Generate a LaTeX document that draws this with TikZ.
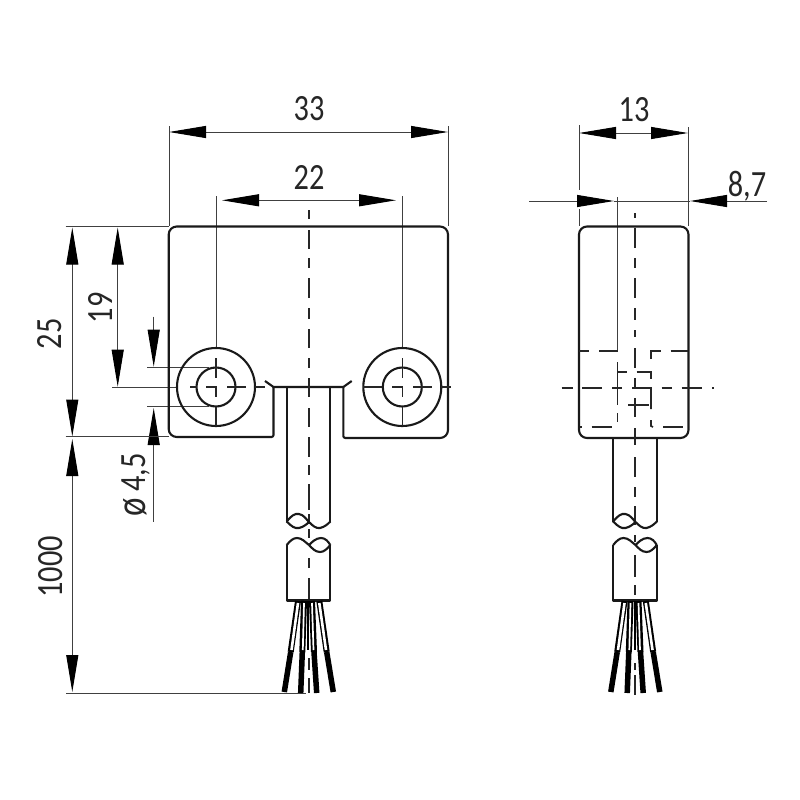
\documentclass[tikz,border=0pt]{standalone}
\usepackage{fontspec}
\usepackage{graphicx}
\usetikzlibrary{arrows.meta}
\newfontfamily\dimfont{Carlito}
\newcommand{\dimtext}[1]{{\dimfont\fontsize{37}{37}\selectfont\scalebox{.82}[1]{#1}}}
\tikzset{
  headtip/.tip={Triangle[length=37pt,width=12pt,color=black,fill=black]},
  outline/.style={line width=2.1pt,draw=black!90,line join=round},
  thinline/.style={line width=1pt,draw=black!75},
  dimline/.style={thinline,{headtip}-{headtip}},
  dimend/.style={thinline,-{headtip}},
  hidden/.style={line width=1.7pt,draw=black!85},
  centre/.style={line width=1.6pt,draw=black!85},
  dimlabel/.style={inner sep=0pt,text=black!85},
  wirebody/.style={line width=6pt,draw=black},
  wirecore/.style={line width=2.6pt,draw=white},
  wirecorein/.style={line width=1.7pt,draw=white}
}
\begin{document}
\begin{tikzpicture}[x=1pt,y=-1pt]
\path[use as bounding box,fill=white] (0,0) rectangle (800,800);
% ---- named dimension points
\coordinate (dAa) at (169,132); \coordinate (dAb) at (448,132);
\coordinate (dBa) at (222,200.3); \coordinate (dBb) at (396,200.3);
\coordinate (dCa) at (72.3,227.5); \coordinate (dCb) at (72.3,436.5);
\coordinate (dDa) at (117.7,227.5); \coordinate (dDb) at (117.7,386.7);
\coordinate (dEa) at (72.3,439); \coordinate (dEb) at (72.3,692);
\coordinate (dFa) at (153.7,316.7); \coordinate (dFb) at (153.7,366.7);
\coordinate (dGa) at (153.7,521.7); \coordinate (dGb) at (153.7,408);
\coordinate (dHa) at (579,133); \coordinate (dHb) at (688,133);
\coordinate (dIa) at (529,201); \coordinate (dIb) at (614,201);
\coordinate (dJa) at (767,201); \coordinate (dJb) at (690,201);
% ---- dimension lines
\draw[dimline] (dAa) -- (dAb);
\draw[dimline] (dBa) -- (dBb);
\draw[dimline] (dCa) -- (dCb);
\draw[dimline] (dDa) -- (dDb);
\draw[dimline] (dEa) -- (dEb);
\draw[dimend] (dFa) -- (dFb);
\draw[dimend] (dGa) -- (dGb);
\draw[dimline] (dHa) -- (dHb);
\draw[dimend] (dIa) -- (dIb);
\draw[dimend] (dJa) -- (dJb);
\draw[thinline] (dIb) -- (dJb);
% ---- extension lines
\draw[thinline] (169,126) -- (169,226) (448,126) -- (448,226);
\draw[thinline] (216,196) -- (216,348) (402.3,196) -- (402.3,348);
\draw[thinline] (65.7,226.7) -- (169,226.7);
\draw[thinline] (65.7,436.7) -- (169,436.7);
\draw[thinline] (112,387) -- (178,387);
\draw[thinline] (147,367.7) -- (209,367.7) (147,406) -- (209,406);
\draw[thinline] (66,693) -- (306,693);
\draw[thinline] (579,125) -- (579,190) (579,209) -- (579,226) (688,127) -- (688,226);
\draw[thinline] (617.5,197) -- (617.5,350);
% ---- front view body
\draw[outline,rounded corners=8pt] (273.5,387) [rounded corners=2pt] -- (273.5,437) -- (200,437) [rounded corners=8pt] -- (168.7,437) -- (168.7,226.5) -- (448,226.5) -- (448,438) -- (380,438) [rounded corners=2pt] -- (343.3,438) -- (343.3,387);
\draw[outline] (265,381) -- (273.5,387) -- (343.3,387) -- (351.7,381);
% ---- bores
\draw[outline] (216,387) circle[radius=39] (216,387) circle[radius=19.5];
\draw[outline] (402.3,387) circle[radius=39] (402.3,387) circle[radius=19.5];
\foreach \cx in {216,402.3}{
  \draw[centre] (\cx,358) -- (\cx,378) (\cx-10,387) -- (\cx,387) -- (\cx,397) (\cx,407) -- (\cx,426)
    (\cx+11,387) -- (\cx+30,387) (\cx+39,387) -- (\cx+49,387);
}
\draw[centre] (190,387) -- (196.5,387);
\draw[centre] (363.3,387) -- (382.3,387);
% ---- front centre line
\foreach \a/\b in {210/219,230/249,258/268,278/298,308/319,329/348,358/368,378/397,408/427,437/457,465/475,484/510,514/524,529/538,558/568,578/600}{
  \draw[centre] (308.7,\a) -- (308.7,\b);
}
% ---- side view body
\draw[outline,rounded corners=8pt] (579,226.5) rectangle (688.5,438);
% side view hidden lines
\draw[hidden] (579,350.7) -- (589,350.7) (599,350.7) -- (618,350.7);
\draw[hidden] (650.7,359) -- (650.7,350.7) -- (660.7,350.7) (670.7,350.7) -- (688,350.7);
\draw[hidden] (617.5,362) -- (617.5,405) (617.5,413) -- (617.5,422);
\draw[hidden] (617.5,371.7) -- (627,371.7);
\draw[hidden] (636.7,371.7) -- (651,371.7) -- (651,379);
\draw[hidden] (632,388) -- (651,388) -- (651,409) (651,420) -- (651,426) -- (653,427);
\draw[hidden] (628,405) -- (649,405);
\draw[hidden] (635,398) -- (635,417);
\draw[hidden] (580,426.7) -- (582,426.7) (591.7,426.7) -- (611.7,426.7) (663,426.7) -- (683,426.7);
\foreach \a/\b in {561.7/572.7,582/602,612/622,661.7/671.7,681.7/701.7,712/714}{
  \draw[centre] (\a,388) -- (\b,388);
}
\foreach \a/\b in {213/218,228/248,258/268,278/298,308/320,330/337,348/368,378/388,428/445,457/477,487/497,506/525,535/542,555/577,585/595}{
  \draw[centre] (635,\a) -- (635,\b);
}
% ---- cables, breaks and wires (front view, then side view)
\foreach \sx/\top in {0/387,326.5/438}{
\begin{scope}[shift={(\sx,0)}]
  \draw[outline,line width=2.3pt] (286.7,\top) -- (286.7,521.5) (330.3,\top) -- (330.3,521.5);
  \draw[outline] (286.7,521.5) .. controls (291,516) and (295,513) .. (299,514) .. controls (304,515) and (306,519) .. (309,522) .. controls (312,525) and (316,529) .. (320,528) .. controls (324,527) and (327,525) .. (330.3,521.5);
  \draw[outline] (286.7,521.5) .. controls (291,526) and (295,529) .. (299,528) .. controls (303,527) and (306,525) .. (309,522);
  \draw[outline,line width=2.3pt] (286.7,545) -- (286.7,600.5) -- (330.3,600.5) -- (330.3,545);
  \draw[outline] (286.7,545) .. controls (290,541) and (293,538) .. (297,538) .. controls (302,538) and (305,542) .. (309,545) .. controls (312,548) and (315,552) .. (320,552) .. controls (324,552) and (327,549) .. (330.3,545);
  \draw[outline] (309,545) .. controls (312,542) and (316,538) .. (321,538) .. controls (325,538) and (328,541) .. (330.3,545);
  \draw[wirebody] (298,601) -- (290.7,652); \draw[wirebody,line width=5.5pt] (290.7,652) -- (284.3,692);
  \draw[wirebody] (304,601) -- (302.3,652); \draw[wirebody,line width=5.5pt] (302.3,652) -- (300.7,693);
  \draw[wirebody] (312,601) -- (314,652); \draw[wirebody,line width=5.5pt] (314,652) -- (316.7,693);
  \draw[wirebody] (319.3,601) -- (326.7,652); \draw[wirebody,line width=5.5pt] (326.7,652) -- (333.3,692);
  \draw[wirecore] (298,603) -- (291.5,650);
  \draw[wirecorein] (304,603) -- (302.8,650);
  \draw[wirecorein] (312,603) -- (313.5,650);
  \draw[wirecore] (319.3,603) -- (326,650);
  \draw[line width=2.4pt,draw=black] (308.2,601) -- (308.2,650);
\end{scope}}
% centre lines below the wires
\draw[centre] (308.7,658) -- (308.7,670) (308.7,678) -- (308.7,693);
\draw[centre] (635,663) -- (635,670) (635,675) -- (635,695);
% ---- labels
\node[dimlabel] (lA) at (309,109) {\dimtext{33}};
\node[dimlabel] (lB) at (309,177) {\dimtext{22}};
\node[dimlabel] (lC) at (634,110) {\dimtext{13}};
\node[dimlabel] (lD) at (747,186) {\dimtext{8,7}};
\node[dimlabel,rotate=90] (lE) at (50,334) {\dimtext{25}};
\node[dimlabel,rotate=90] (lF) at (100,308) {\dimtext{19}};
\node[dimlabel,rotate=90] (lG) at (136,485) {\dimtext{\scalebox{1.15}{ø} 4,5}};
\node[dimlabel,rotate=90] (lH) at (51,567) {\dimtext{1000}};
\end{tikzpicture}
\end{document}
